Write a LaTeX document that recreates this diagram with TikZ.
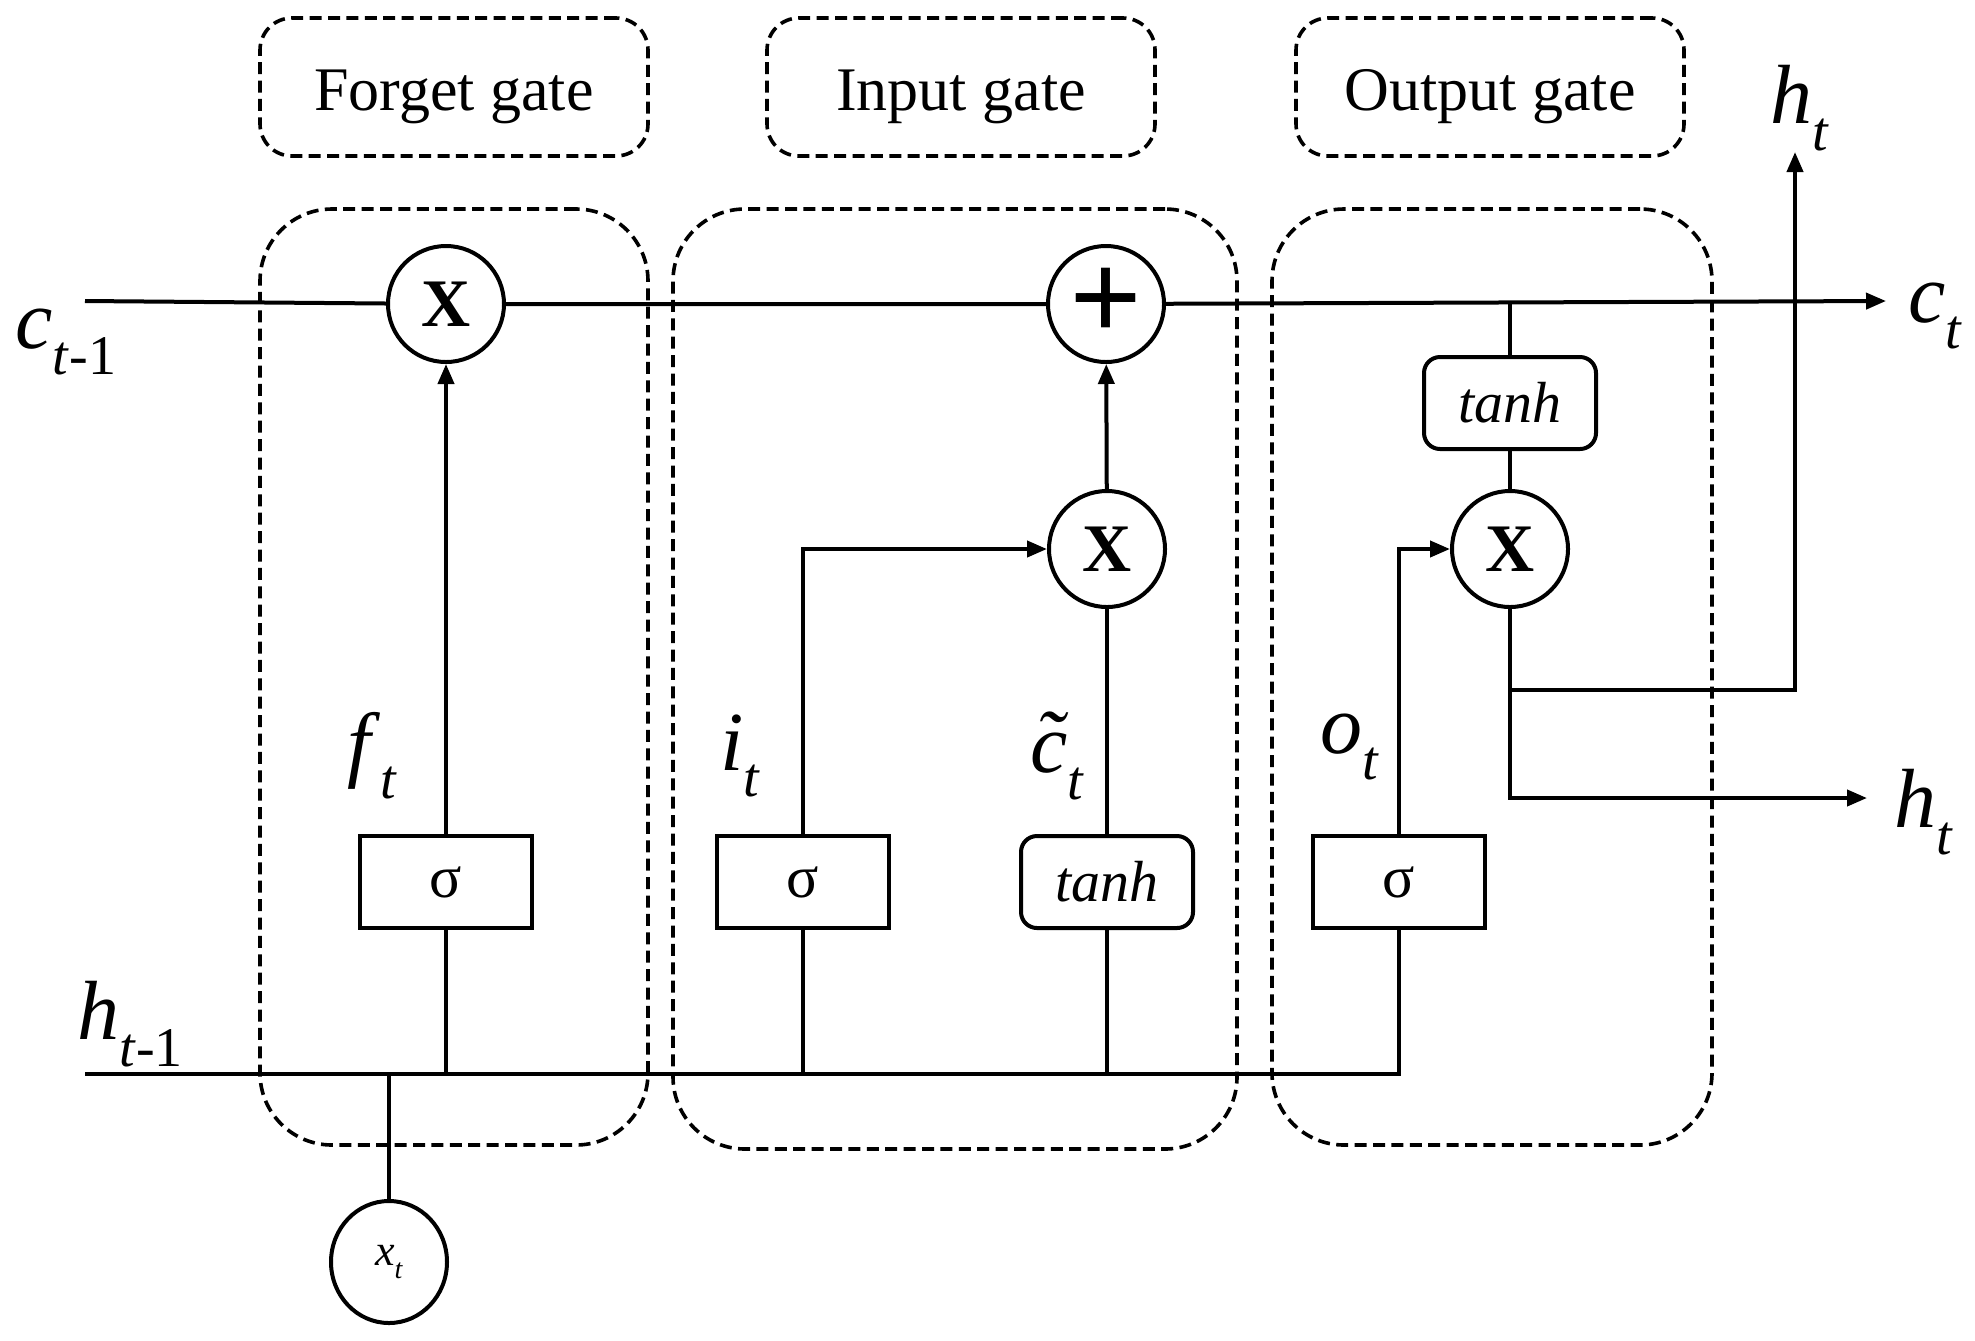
\documentclass[tikz,border=0pt]{standalone}
\usepackage{fontspec}
\setmainfont{Liberation Serif}
\usetikzlibrary{arrows.meta,shapes.geometric}
\newcommand{\lbsub}[2]{\textit{#1}\raisebox{-0.32em}{\fontsize{28}{30}\selectfont #2}}
\newcommand{\ctil}{\textit{c}\llap{\raisebox{0.05em}{\textit{\char"02DC}}\hspace{0.04em}}}
\begin{document}
\begin{tikzpicture}[x=0.5pt,y=-0.5pt,line width=2pt,
  arr/.style={-{Triangle[length=10pt,width=8pt]}},
  dashlbl/.style={draw,dash pattern=on 6pt off 3.2pt,line width=1.8pt,rounded corners=16pt,
     minimum width=194pt,minimum height=69pt},
  lbltext/.style={font=\fontsize{31}{36}\selectfont,inner sep=0pt},
  dashreg/.style={draw,dash pattern=on 6pt off 3.2pt,line width=1.8pt,rounded corners=36pt},
  opc/.style={circle,draw,fill=white,minimum size=58pt,inner sep=0pt},
  sigbox/.style={draw,fill=white,minimum width=86pt,minimum height=46pt,inner sep=0pt,
     font=\fontsize{30}{32}\selectfont},
  tanhbox/.style={sigbox,rounded corners=8pt,font=\fontsize{29}{32}\selectfont\itshape},
  mlbl/.style={font=\fontsize{42}{46}\selectfont,inner sep=0pt}
]
\useasboundingbox (0,0) rectangle (1975,1340);
% gate labels
\node[dashlbl] (lf) at (454,87) {};
\node[dashlbl] (li) at (961,87) {};
\node[dashlbl] (lo) at (1490,87) {};
\node[lbltext] (lft) at (454,97) {Forget gate};
\node[lbltext] (lit) at (961,97) {Input gate};
\node[lbltext] (lot) at (1490,97) {Output gate};
% regions
\node[dashreg,minimum width=194pt,minimum height=468pt] (rf) at (454,677) {};
\node[dashreg,minimum width=282pt,minimum height=470pt] (ri) at (955,679) {};
\node[dashreg,minimum width=220pt,minimum height=468pt] (ro) at (1492,677) {};
% operators
\node[opc,font=\fontsize{34}{36}\selectfont\bfseries] (fx) at (446,304) {X};
\node[opc,font=\fontsize{64}{66}\selectfont\bfseries] (plus) at (1106,304) {+};
\node[opc,font=\fontsize{34}{36}\selectfont\bfseries] (ix) at (1107,549) {X};
\node[opc,font=\fontsize{34}{36}\selectfont\bfseries] (ox) at (1510,549) {X};
\node[ellipse,draw,fill=white,inner sep=0pt,minimum width=58pt,minimum height=61pt,font=\fontsize{22}{24}\selectfont] (xt) at (389,1262) {\textit{x}\raisebox{-0.3em}{\fontsize{14}{15}\selectfont\textit{t}}};
% activation boxes
\node[sigbox] (fsig) at (446,882) {σ};
\node[sigbox] (isig) at (803,882) {σ};
\node[tanhbox] (itanh) at (1107,882) {tanh};
\node[sigbox] (osig) at (1399,882) {σ};
\node[tanhbox] (otanh) at (1510,403) {tanh};
% coordinates
\coordinate (cin) at (85,301);
\coordinate (cout) at (1886,301);
\coordinate (hin) at (85,1074);
\coordinate (htop) at (1795,152);
\coordinate (hright) at (1867,798);
\coordinate (jA) at (1510,690);
% cell state
\draw[arr] (cin) -- (fx) -- (plus) -- (cout);
% hidden input line
\draw (hin) -| (osig);
\draw (xt) -- (xt |- hin);
\draw (fsig) -- (fsig |- hin);
\draw[arr] (fsig) -- (fx);
\draw (isig) -- (isig |- hin);
\draw[arr] (isig) |- (ix);
\draw (itanh) -- (itanh |- hin);
\draw (itanh) -- (ix);
\draw[arr] (ix) -- (plus);
\draw[arr] (osig) |- (ox);
\draw (otanh) -- (otanh |- cin);
\draw (otanh) -- (ox);
\draw[arr] (ox) |- (hright);
\draw[arr] (jA) -| (htop);
% labels
\node[mlbl] (lct1) at (66,342) {\lbsub{c}{\textit{t}-1}};
\node[mlbl] (lct) at (1935,316) {\lbsub{c}{\textit{t}}};
\node[mlbl] (lht1) at (130,1024) {\lbsub{h}{\textit{t}-1}};
\node[mlbl] (lhtu) at (1800,108) {\lbsub{h}{\textit{t}}};
\node[mlbl] (lhtr) at (1924,812) {\lbsub{h}{\textit{t}}};
\node[mlbl] (lf1) at (372,756) {\lbsub{f}{\textit{t}}};
\node[mlbl] (li1) at (740,756) {\lbsub{i}{\textit{t}}};
\node[mlbl] (lc1) at (1057,756) {\lbsub{\ctil}{\textit{t}}};
\node[mlbl] (lo1) at (1350,747) {\lbsub{o}{\textit{t}}};
\end{tikzpicture}
\end{document}
